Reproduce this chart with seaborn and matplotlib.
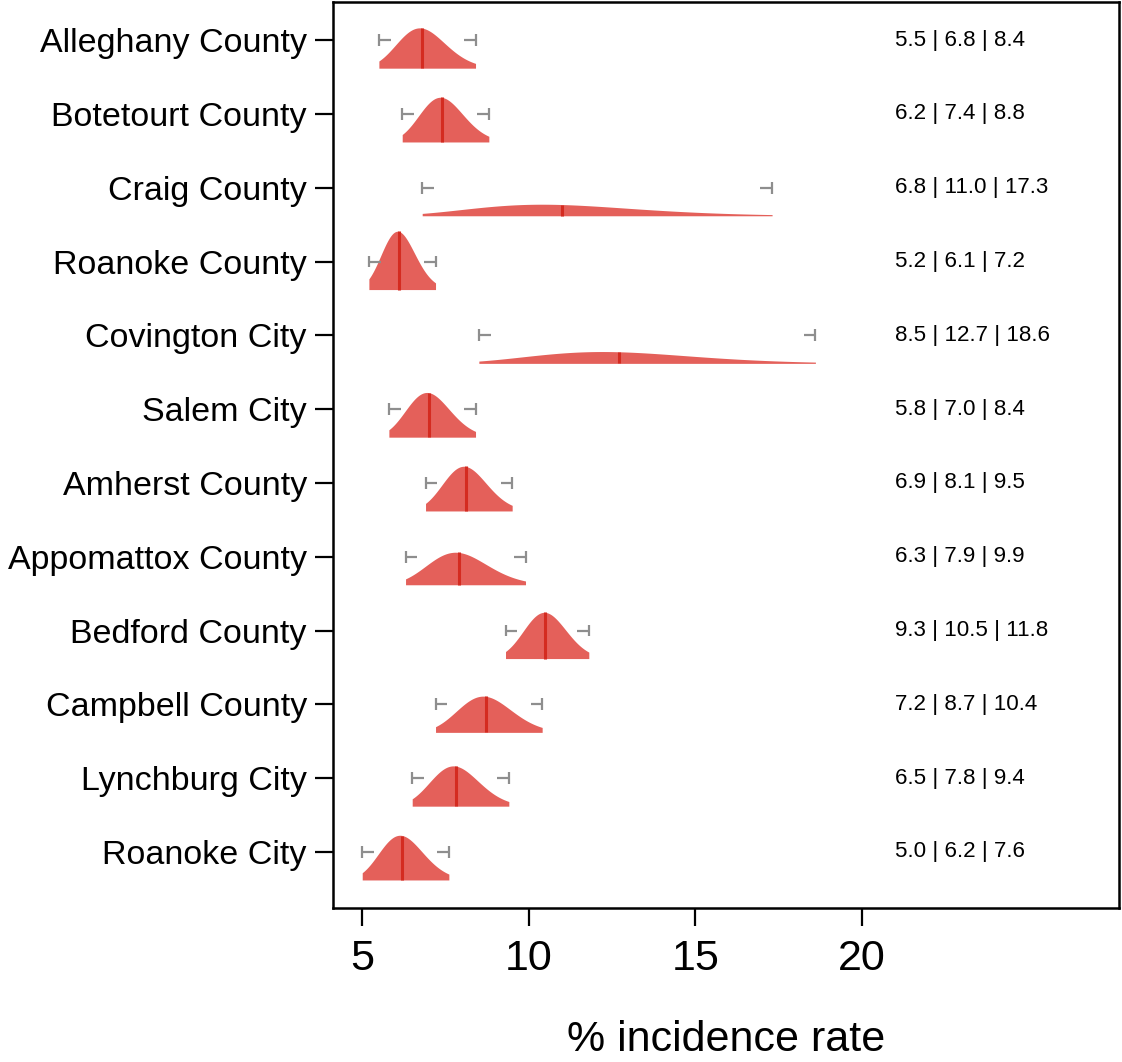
import numpy as np
import pandas as pd
import matplotlib
matplotlib.use("Agg")
import matplotlib.pyplot as plt
import seaborn as sns

# ---------------------------
# Data (low | median | high, % incidence rate)
# ---------------------------
counties = [
    "Alleghany County", "Botetourt County", "Craig County", "Roanoke County",
    "Covington City", "Salem City", "Amherst County", "Appomattox County",
    "Bedford County", "Campbell County", "Lynchburg City", "Roanoke City",
]
low = [5.5, 6.2, 6.8, 5.2, 8.5, 5.8, 6.9, 6.3, 9.3, 7.2, 6.5, 5.0]
median = [6.8, 7.4, 11.0, 6.1, 12.7, 7.0, 8.1, 7.9, 10.5, 8.7, 7.8, 6.2]
high = [8.4, 8.8, 17.3, 7.2, 18.6, 8.4, 9.5, 9.9, 11.8, 10.4, 9.4, 7.6]
x_ticks = [5, 10, 15, 20]

df = pd.DataFrame({"county": counties, "low": low, "median": median, "high": high})

# ---------------------------
# Style
# ---------------------------
sns.set_style("white")
plt.rcParams["font.family"] = ["Liberation Sans", "DejaVu Sans"]
plt.rcParams["text.color"] = "black"
plt.rcParams["axes.labelcolor"] = "black"
plt.rcParams["xtick.color"] = "black"
plt.rcParams["ytick.color"] = "black"

FILL = "#e4605a"
MED = "#d42b20"
GREY = "#8e8e8e"
BASE_OFF = 0.38   # density baseline below the row centre

fig = plt.figure(figsize=(11.22, 10.62), dpi=100)
ax = fig.add_axes([0.297, 0.145, 0.700, 0.853])

for i, r in df.iterrows():
    # lognormal shape implied by the interval, truncated at low/high
    mu = np.log(r["median"])
    sig = (np.log(r["high"]) - np.log(r["low"])) / (2 * 1.96)
    xs = np.linspace(r["low"], r["high"], 300)
    pdf = np.exp(-(np.log(xs) - mu) ** 2 / (2 * sig ** 2)) / (xs * sig * np.sqrt(2 * np.pi))
    base = i + BASE_OFF
    ax.fill_between(xs, base, base - pdf, color=FILL, lw=0, zorder=2)

    pm = 1.0 / (r["median"] * sig * np.sqrt(2 * np.pi))
    ax.vlines(r["median"], base, base - pm, color=MED, lw=2.2, zorder=3)

    # interval whisker stubs
    stub = 0.35
    ax.hlines(i, r["low"], r["low"] + stub, color=GREY, lw=1.6, zorder=3)
    ax.hlines(i, r["high"] - stub, r["high"], color=GREY, lw=1.6, zorder=3)
    ax.vlines([r["low"], r["high"]], i - 0.08, i + 0.08, color=GREY, lw=1.6, zorder=3)

    ax.text(21.0, i, f"{r['low']:.1f} | {r['median']:.1f} | {r['high']:.1f}",
            ha="left", va="center", fontsize=16.1, color="black")

ax.set_xlim(4.13, 27.7)
ax.set_ylim(11.76, -0.515)
ax.set_yticks(range(len(counties)))
ax.set_yticklabels(counties, fontsize=24.5)
ax.set_xticks(x_ticks)
ax.set_xticklabels([str(t) for t in x_ticks], fontsize=31)
ax.set_xlabel("% incidence rate", fontsize=31, labelpad=30)

ax.tick_params(axis="both", direction="out", length=13, width=1.6,
               color="black", labelcolor="black", left=True, bottom=True)
ax.tick_params(axis="y", pad=6)
ax.tick_params(axis="x", pad=9)
for s in ax.spines.values():
    s.set_color("black")
    s.set_linewidth(1.8)

fig.savefig("out.png", dpi=100)
plt.close(fig)
